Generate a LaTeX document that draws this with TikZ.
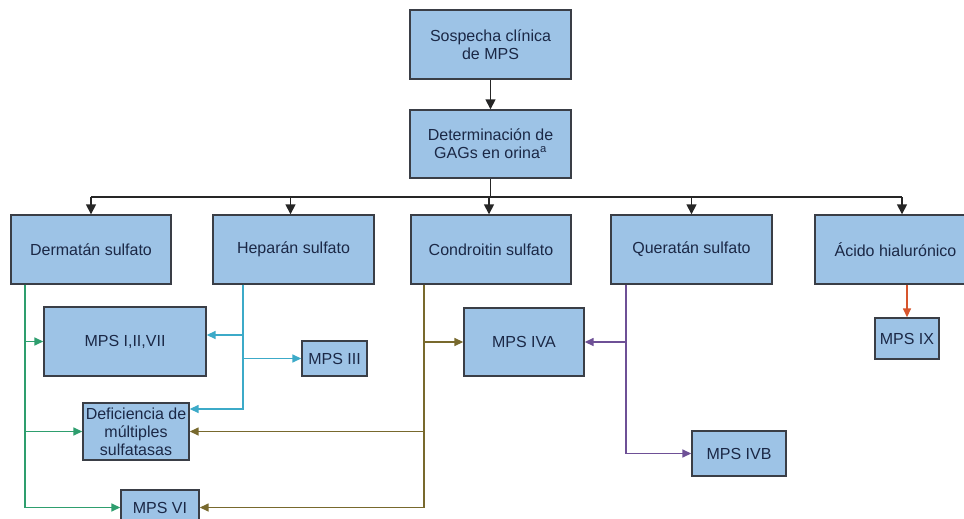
\documentclass[tikz,border=0pt]{standalone}
\usepackage{fontspec}
\setmainfont{Liberation Sans}
\usetikzlibrary{arrows.meta}
\definecolor{boxfill}{RGB}{157,195,230}
\definecolor{boxdraw}{RGB}{58,62,70}
\definecolor{txt}{RGB}{27,40,70}
\definecolor{cgreen}{RGB}{46,158,110}
\definecolor{ccyan}{RGB}{60,170,200}
\definecolor{colive}{RGB}{120,105,45}
\definecolor{cpurple}{RGB}{110,80,150}
\definecolor{cred}{RGB}{215,85,45}
\tikzset{
  box/.style={draw=boxdraw, fill=boxfill, line width=1.4pt, inner sep=0pt,
    align=center, text=txt, font=\fontsize{16}{18}\selectfont},
  blk/.style={draw=black!85, line width=1.6pt},
  blkarr/.style={blk, -{Triangle[length=10pt,width=10pt]}},
  colline/.style={line width=1.5pt},
  colarr/.style={colline, -{Triangle[length=9pt,width=8pt]}}
}
\begin{document}
\begin{tikzpicture}[x=1pt,y=-1pt]
\useasboundingbox (0,0) rectangle (964,519);
\clip (0,0) rectangle (964,519);
\fill[white] (0,0) rectangle (964,519);

% top boxes
\node[box, minimum width=161pt, minimum height=69pt] (sos) at (490.5,44.5) {Sospecha clínica\\de MPS};
\node[box, minimum width=161pt, minimum height=68pt] (det) at (490.5,144) {Determinación de\\GAGs en orina\textsuperscript{a}};

% level 2
\node[box, minimum width=160pt, minimum height=69pt] (derm) at (91,249.5) {Dermatán sulfato};
\node[box, minimum width=161pt, minimum height=69pt] (hep) at (293.5,249.5) {Heparán sulfato};
\node[box, minimum width=160pt, minimum height=69pt] (cond) at (491,249.5) {Condroitin sulfato};
\node[box, minimum width=161pt, minimum height=69pt] (quer) at (691.5,249.5) {Queratán sulfato};
\node[box, minimum width=161pt, minimum height=69pt] (acido) at (895.5,249.5) {Ácido hialurónico};

% level 3
\node[box, minimum width=162pt, minimum height=69pt] (mps1) at (125,341.5) {MPS I,II,VII};
\node[box, minimum width=65pt, minimum height=35pt] (mps3) at (334.5,358.5) {MPS III};
\node[box, minimum width=106pt, minimum height=57pt] (defi) at (136,431.5) {Deficiencia de\\múltiples\\sulfatasas};
\node[box, minimum width=78pt, minimum height=35pt] (mps6) at (160,507.5) {MPS VI};
\node[box, minimum width=120pt, minimum height=68pt] (mps4a) at (524,342) {MPS IVA};
\node[box, minimum width=94pt, minimum height=45pt] (mps4b) at (739,453.5) {MPS IVB};
\node[box, minimum width=64pt, minimum height=41pt] (mps9) at (907,338.5) {MPS IX};

% black connectors
\coordinate (bus) at (0,197);
\draw[blkarr] (sos) -- (det);
\draw[blk] (det.south) -- (det.south |- bus);
\draw[blk] (derm.north |- bus) -- ([xshift=6.5pt]acido.north |- bus);
\draw[blkarr] (derm.north |- bus) -- (derm.north);
\draw[blkarr] ([xshift=-3pt]hep.north |- bus) -- ([xshift=-3pt]hep.north);
\draw[blkarr] ([xshift=-2pt]cond.north |- bus) -- ([xshift=-2pt]cond.north);
\draw[blkarr] (quer.north |- bus) -- (quer.north);
\draw[blkarr] ([xshift=6.5pt]acido.north |- bus) -- ([xshift=6.5pt]acido.north);

% green (Dermatan)
\coordinate (g) at ([xshift=-66pt]derm.south);
\draw[colarr, cgreen] (g) |- (mps1.west);
\draw[colarr, cgreen] (g) |- (defi.west);
\draw[colarr, cgreen] (g) |- (mps6.west);

% cyan (Heparan)
\coordinate (c) at ([xshift=-50.5pt]hep.south);
\draw[colarr, ccyan] (c) |- ([yshift=6.5pt]mps1.east);
\draw[colarr, ccyan] (c) |- (mps3.west);
\draw[colarr, ccyan] (c) |- ([yshift=22.5pt]defi.east);

% olive (Condroitin)
\coordinate (o) at ([xshift=-67pt]cond.south);
\draw[colarr, colive] (o) |- (mps4a.west);
\draw[colarr, colive] (o) |- (defi.east);
\draw[colarr, colive] (o) |- (mps6.east);

% purple (Queratan)
\coordinate (p) at ([xshift=-65.5pt]quer.south);
\draw[colarr, cpurple] (p) |- (mps4a.east);
\draw[colarr, cpurple] (p) |- (mps4b.west);

% red (Acido)
\draw[colarr, cred] (mps9.north |- acido.south) -- (mps9.north);
\end{tikzpicture}
\end{document}
